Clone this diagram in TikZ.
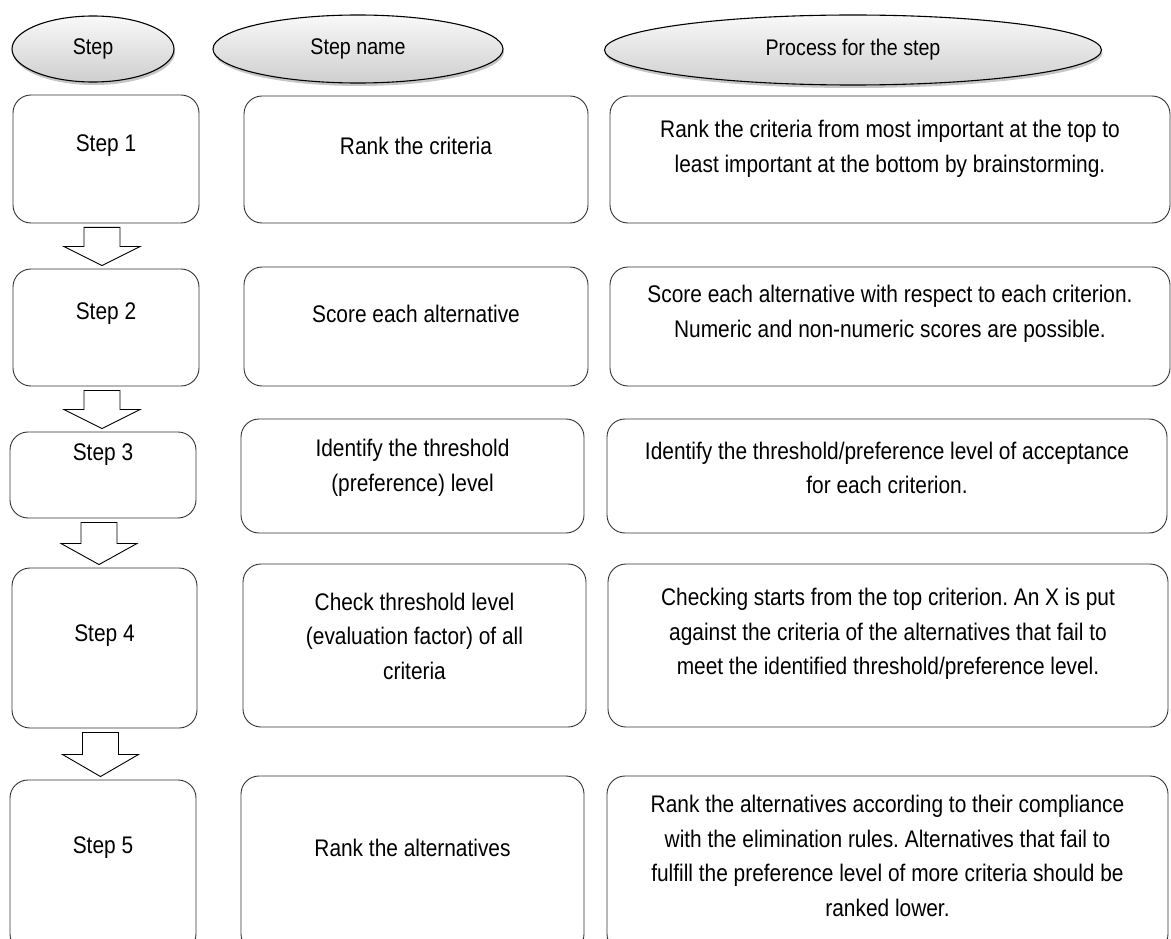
\documentclass[tikz,border=0pt]{standalone}
\usepackage{fontspec}
\setmainfont{Liberation Sans}[FakeStretch=0.87]
\usetikzlibrary{positioning,calc,shapes.geometric,shadows}
\frenchspacing

\tikzset{
  head/.style={ellipse, draw=black, line width=1.1pt, top color=gray!5, bottom color=gray!38,
    drop shadow={shadow xshift=1pt, shadow yshift=-3pt, opacity=0.45},
    inner sep=0pt, font=\fontsize{22.6}{26}\selectfont},
  stepbox/.style={draw=black!80, line width=0.9pt, rounded corners=18pt, fill=white},
  txt/.style={align=center, inner sep=0pt, font=\fontsize{24}{34.5}\selectfont},
  blockarrow/.style={draw=black, line width=0.9pt, fill=white, line join=miter},
}

% hollow block arrow from the bottom of one step box to the top of the next
\newcommand{\flowarrow}[2]{%
  \path ($(#1.south)+(-4,4)$) coordinate (ftop)
        ($(#2.north)+(0,-3)$) coordinate (fend);
  \coordinate (ftip) at (ftop |- fend);
  \coordinate (fmid) at ($(ftop)!0.5!(ftip)$);
  \draw[blockarrow] ($(ftop)+(-18,0)$) -- ($(fmid)+(-18,0)$) -- ($(fmid)+(-38,0)$)
    -- (ftip) -- ($(fmid)+(38,0)$) -- ($(fmid)+(18,0)$) -- ($(ftop)+(18,0)$) -- cycle;
}

\begin{document}
\begin{tikzpicture}[x=1pt, y=-1pt]
  \useasboundingbox (0,0) rectangle (1171,939);
  \clip (0,0) rectangle (1171,939);

  % column heads
  \node[head, minimum width=162pt, minimum height=66pt] (hstep) at (93,49) {Step};
  \node[head, minimum width=290pt, minimum height=68pt] (hname) at (358,49) {Step name};
  \node[head, minimum width=497pt, minimum height=70pt] (hproc) at (853,50) {Process for the step};

  % step boxes
  \node[stepbox, minimum width=186pt, minimum height=128pt] (s1) at (106,159) {};
  \node[stepbox, minimum width=186pt, minimum height=117pt] (s2) at (106,327.5) {};
  \node[stepbox, minimum width=186pt, minimum height=86pt]  (s3) at (103,475) {};
  \node[stepbox, minimum width=185pt, minimum height=160pt] (s4) at (104.5,648) {};
  \node[stepbox, minimum width=186pt, minimum height=172pt] (s5) at (103,866) {};

  % name boxes
  \node[stepbox, minimum width=344pt, minimum height=127pt] (n1) at (416,159.5) {};
  \node[stepbox, minimum width=344pt, minimum height=119pt] (n2) at (416,326.5) {};
  \node[stepbox, minimum width=343pt, minimum height=114pt] (n3) at (412.5,476) {};
  \node[stepbox, minimum width=343pt, minimum height=163pt] (n4) at (414.5,645.5) {};
  \node[stepbox, minimum width=343pt, minimum height=176pt] (n5) at (412.5,864) {};

  % process boxes
  \node[stepbox, minimum width=560pt, minimum height=127pt] (p1) at (890,159.5) {};
  \node[stepbox, minimum width=560pt, minimum height=119pt] (p2) at (890,326.5) {};
  \node[stepbox, minimum width=560pt, minimum height=114pt] (p3) at (887,476) {};
  \node[stepbox, minimum width=560pt, minimum height=163pt] (p4) at (888,645.5) {};
  \node[stepbox, minimum width=561pt, minimum height=176pt] (p5) at (887.5,864) {};

  % texts
  \node[txt] (s1t) at (106,146) {Step 1};
  \node[txt] (s2t) at (106,314) {Step 2};
  \node[txt] (s3t) at (103,455) {Step 3};
  \node[txt] (s4t) at (104.5,636) {Step 4};
  \node[txt] (s5t) at (103,848) {Step 5};

  \node[txt] (n1t) at (416,146) {Rank the criteria};
  \node[txt] (n2t) at (416,314) {Score each alternative};
  \node[txt] (n3t) at (412.5,468) {Identify the threshold\\(preference) level};
  \node[txt] (n4t) at (414.5,636) {Check threshold level\\(evaluation factor) of all\\criteria};
  \node[txt] (n5t) at (412.5,848) {Rank the alternatives};

  \node[txt] (p1t) at (890,149) {Rank the criteria from most important at the top to\\least important at the bottom by brainstorming.};
  \node[txt] (p2t) at (890,314) {Score each alternative with respect to each criterion.\\Numeric and non-numeric scores are possible.};
  \node[txt] (p3t) at (887,468) {Identify the threshold/preference level of acceptance\\for each criterion.};
  \node[txt] (p4t) at (888,634) {Checking starts from the top criterion. An X is put\\against the criteria of the alternatives that fail to\\meet the identified threshold/preference level.};
  \node[txt] (p5t) at (887.5,856) {Rank the alternatives according to their compliance\\with the elimination rules. Alternatives that fail to\\fulfill the preference level of more criteria should be\\ranked lower.};

  % arrows between steps
  \flowarrow{s1}{s2}
  \flowarrow{s2}{s3}
  \flowarrow{s3}{s4}
  \flowarrow{s4}{s5}
\end{tikzpicture}
\end{document}
